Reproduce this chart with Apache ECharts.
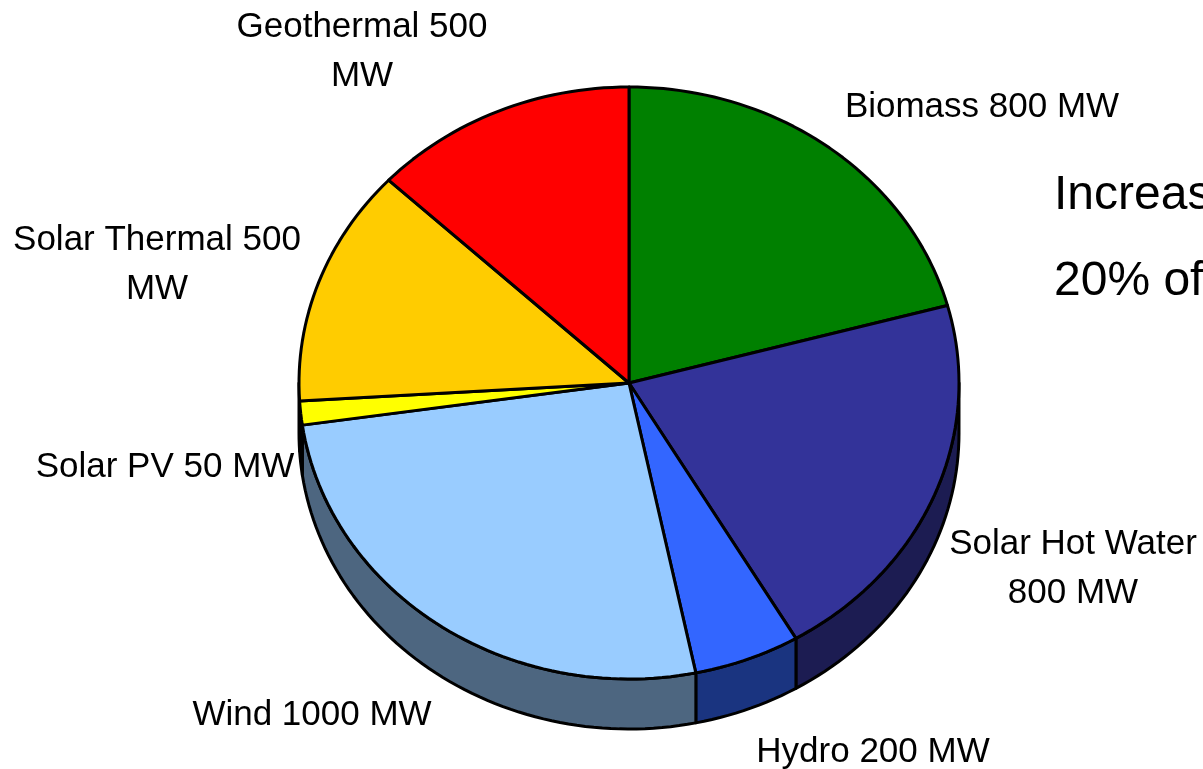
<!DOCTYPE html>
<html>
<head>
<meta charset="utf-8">
<script src="https://cdn.jsdelivr.net/npm/echarts@6/dist/echarts.min.js"></script>
<style>
html, body { margin: 0; padding: 0; background: #fff; }
#main { width: 1203px; height: 769px; }
</style>
</head>
<body>
<div id="main"></div>
<script>
// renewable capacity, clockwise from 12 o'clock
var sources = ['Biomass', 'Solar Hot Water', 'Hydro', 'Wind', 'Solar PV', 'Solar Thermal', 'Geothermal'];
var capacity = [800, 800, 200, 1000, 50, 500, 500];
var headline = ['Increase', '20% of'];

var topColors = ['#008000', '#333399', '#3366ff', '#99ccff', '#ffff00', '#ffcc00', '#ff0000'];
var sideColors = ['#004000', '#1c1c52', '#1a3480', '#4d6680', '#808000', '#806600', '#800000'];

// ellipse of the pie top + thickness of the rim
var cx = 629, cy = 383, rx = 330, ry = 296, depth = 50;

var total = capacity.reduce(function (a, b) { return a + b; }, 0);
var starts = [];
var acc = 0;
capacity.forEach(function (v) {
    starts.push(acc / total * 360);
    acc += v;
});

function pt(deg, dy) {
    var r = deg * Math.PI / 180;
    return [cx + rx * Math.sin(r), cy - ry * Math.cos(r) + (dy || 0)];
}
function arc(a0, a1, dy) {
    var pts = [];
    var n = Math.max(2, Math.ceil((a1 - a0) / 1.5));
    for (var i = 0; i <= n; i++) {
        pts.push(pt(a0 + (a1 - a0) * i / n, dy));
    }
    return pts;
}

function renderSide(params, api) {
    var i = params.dataIndex;
    var a0 = starts[i], a1 = a0 + api.value(0) / total * 360;
    var s = Math.max(a0, 90), e = Math.min(a1, 270);
    if (e <= s) return;
    var pts = arc(s, e, 0).concat(arc(s, e, depth).reverse());
    return {
        type: 'polygon',
        shape: { points: pts },
        style: { fill: sideColors[i], stroke: '#000', lineWidth: 3, lineJoin: 'round' }
    };
}

function renderTop(params, api) {
    var i = params.dataIndex;
    var a0 = starts[i], a1 = a0 + api.value(0) / total * 360;
    var pts = [[cx, cy]].concat(arc(a0, a1, 0));
    return {
        type: 'polygon',
        shape: { points: pts },
        style: { fill: topColors[i], stroke: '#000', lineWidth: 3, lineJoin: 'round' }
    };
}

// where each label sits and how it wraps
var labelSpots = [
    { x: 982, y: 107 },
    { x: 1073, y: 569, wrap: 'name' },
    { x: 873, y: 752 },
    { x: 312, y: 715 },
    { x: 165, y: 467 },
    { x: 157, y: 265, wrap: 'value' },
    { x: 362, y: 52, wrap: 'value' }
];

var graphics = labelSpots.map(function (spot, i) {
    var txt;
    if (spot.wrap === 'name') {
        txt = sources[i] + '\n' + capacity[i] + ' MW';
    } else if (spot.wrap === 'value') {
        txt = sources[i] + ' ' + capacity[i] + '\nMW';
    } else {
        txt = sources[i] + ' ' + capacity[i] + ' MW';
    }
    return {
        type: 'text',
        x: spot.x,
        y: spot.y,
        z: 10,
        style: {
            text: txt,
            fill: '#000',
            fontSize: 35,
            fontFamily: '"Liberation Sans", Arial, sans-serif',
            lineHeight: 49,
            textAlign: 'center',
            textVerticalAlign: 'middle'
        }
    };
});

headline.forEach(function (line, k) {
    graphics.push({
        type: 'text',
        x: 1054,
        y: 196 + k * 86,
        z: 10,
        style: {
            text: line,
            fill: '#000',
            fontSize: 48,
            fontFamily: '"Liberation Sans", Arial, sans-serif',
            textAlign: 'left',
            textVerticalAlign: 'middle'
        }
    });
});

var chart = echarts.init(document.getElementById('main'));
var option = {
    backgroundColor: '#fff',
    animation: false,
    graphic: graphics,
    series: [
        {
            name: 'rim',
            type: 'custom',
            coordinateSystem: 'none',
            renderItem: renderSide,
            data: capacity,
            z: 1
        },
        {
            name: 'top',
            type: 'custom',
            coordinateSystem: 'none',
            renderItem: renderTop,
            data: capacity,
            z: 2
        }
    ]
};
chart.setOption(option);
</script>
</body>
</html>
